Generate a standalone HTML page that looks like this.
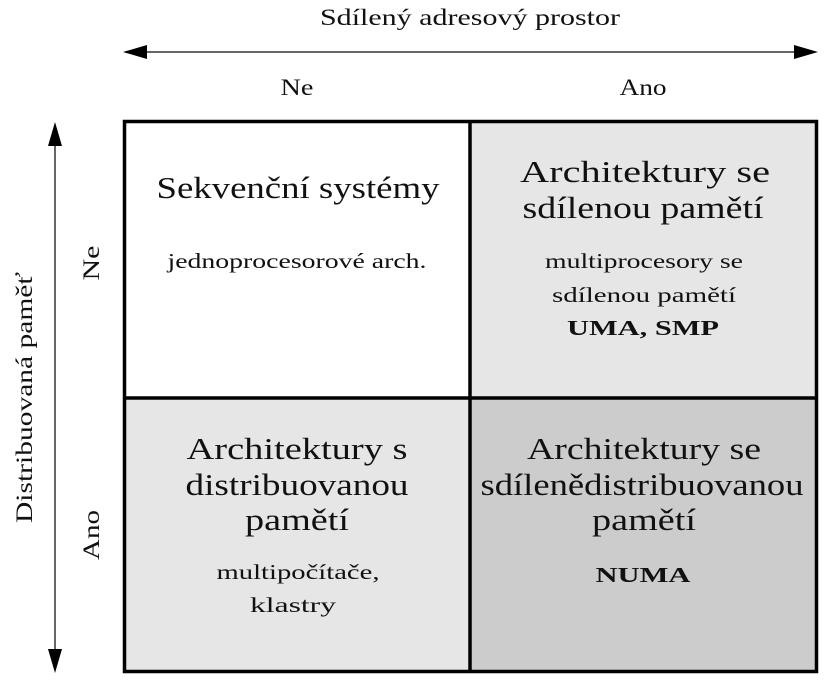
<!DOCTYPE html>
<html><head><meta charset="utf-8"><style>html,body{margin:0;padding:0;background:#fff}</style></head>
<body>
<svg width="824" height="687" viewBox="0 0 824 687" xmlns="http://www.w3.org/2000/svg" font-family="'Liberation Serif', serif" fill="#111">
<rect x="470" y="120" width="347" height="277" fill="#e6e6e6"/>
<rect x="123" y="397" width="347" height="275" fill="#e6e6e6"/>
<rect x="470" y="397" width="347" height="275" fill="#cccccc"/>
<rect x="124.5" y="121.5" width="692" height="550" fill="none" stroke="#000" stroke-width="3.5"/>
<line x1="470" y1="120" x2="470" y2="673" stroke="#000" stroke-width="3.5"/>
<line x1="123" y1="398" x2="818" y2="398" stroke="#000" stroke-width="3.5"/>
<line x1="140" y1="52" x2="800" y2="52" stroke="#333" stroke-width="1.5"/>
<polygon points="123,52 147,45 147,59" fill="#000"/>
<polygon points="818,52 794,45 794,59" fill="#000"/>
<line x1="55" y1="140" x2="55" y2="655" stroke="#333" stroke-width="1.5"/>
<polygon points="55,122 48,146 62,146" fill="#000"/>
<polygon points="55,673 48,649 62,649" fill="#000"/>
<g font-size="23" text-anchor="middle">
<text x="470" y="25" textLength="300" lengthAdjust="spacingAndGlyphs">Sdílený adresový prostor</text>
<text x="297" y="95" textLength="33" lengthAdjust="spacingAndGlyphs">Ne</text>
<text x="643" y="95" textLength="47" lengthAdjust="spacingAndGlyphs">Ano</text>
<text transform="translate(32,523) rotate(-90)" text-anchor="start" textLength="251" lengthAdjust="spacingAndGlyphs">Distribuovaná paměť</text>
<text transform="translate(99,263) rotate(-90)" textLength="35" lengthAdjust="spacingAndGlyphs">Ne</text>
<text transform="translate(99,535) rotate(-90)" textLength="50" lengthAdjust="spacingAndGlyphs">Ano</text>
</g>
<g font-size="31" text-anchor="middle">
<text x="298" y="198" textLength="283" lengthAdjust="spacingAndGlyphs">Sekvenční systémy</text>
<text x="645" y="182" textLength="250" lengthAdjust="spacingAndGlyphs">Architektury se</text>
<text x="643" y="218" textLength="241" lengthAdjust="spacingAndGlyphs">sdílenou pamětí</text>
<text x="297" y="459" textLength="221" lengthAdjust="spacingAndGlyphs">Architektury s</text>
<text x="297" y="495" textLength="223" lengthAdjust="spacingAndGlyphs">distribuovanou</text>
<text x="297" y="530" textLength="104" lengthAdjust="spacingAndGlyphs">pamětí</text>
<text x="644" y="459" textLength="234" lengthAdjust="spacingAndGlyphs">Architektury se</text>
<text x="642" y="495" textLength="323" lengthAdjust="spacingAndGlyphs">sdílenědistribuovanou</text>
<text x="644" y="530" textLength="104" lengthAdjust="spacingAndGlyphs">pamětí</text>
</g>
<g font-size="21" text-anchor="middle">
<text x="297" y="268" textLength="259" lengthAdjust="spacingAndGlyphs">jednoprocesorové arch.</text>
<text x="644" y="268" textLength="198" lengthAdjust="spacingAndGlyphs">multiprocesory se</text>
<text x="644" y="302" textLength="184" lengthAdjust="spacingAndGlyphs">sdílenou pamětí</text>
<text x="643" y="335" font-weight="bold" textLength="152" lengthAdjust="spacingAndGlyphs">UMA, SMP</text>
<text x="298" y="579" textLength="163" lengthAdjust="spacingAndGlyphs">multipočítače,</text>
<text x="293" y="612" textLength="86" lengthAdjust="spacingAndGlyphs">klastry</text>
<text x="643" y="582" font-weight="bold" textLength="95" lengthAdjust="spacingAndGlyphs">NUMA</text>
</g>
</svg>
</body></html>
